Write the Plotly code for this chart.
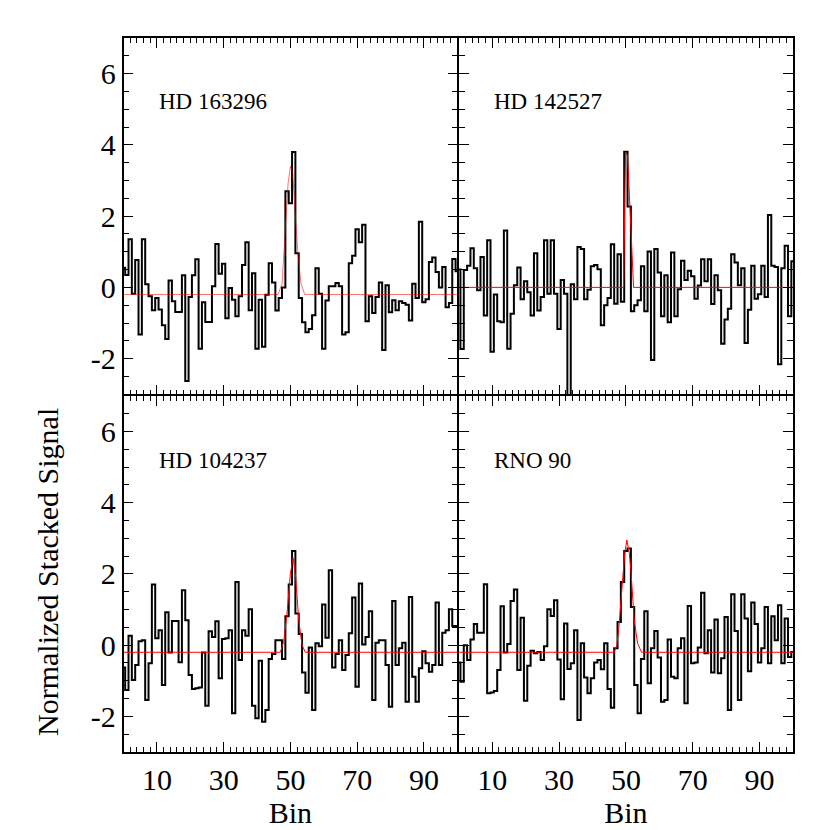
"""Stacked signal around bin 50 for four sources, 2x2 step plots."""
import plotly.graph_objects as go

BINS = list(range(0, 101))

HD163296 = [
    0.55, 0.35, 1.35, -0.18, 0.77, -1.32, 1.35, 0.09, -0.25, -0.64,
    -0.30, -0.62, -1.06, -1.45, 0.19, -0.39, -0.69, -0.69, 0.34, -2.63,
    -0.27, 0.34, 0.79, -1.72, -0.42, -0.97, -0.97, 0.03, 1.22, 0.38,
    0.66, -0.87, -0.02, -0.35, -0.81, -0.25, 0.63, 1.27, -0.64, 0.40,
    -1.72, -0.35, -1.67, -0.21, 0.68, 0.14, -0.65, -0.30, 0.00, 2.70,
    2.36, 3.80, 0.96, -0.30, -0.98, -1.26, -1.17, -0.78, 0.54, -0.18,
    -1.72, -0.37, 0.03, 0.03, 0.12, 0.03, -1.32, -1.26, 0.68, 0.89,
    1.63, 1.27, 1.76, -0.95, -0.25, -0.72, -0.27, 0.14, -1.76, 0.06,
    -0.70, -0.36, -0.64, -0.39, -0.44, -0.49, -0.93, 0.10, -0.30, 1.84,
    -0.42, -0.33, 0.71, 0.84, 0.43, 0.00, 0.57, -0.56, -0.44, 0.80, 0.45,
]

HD142527 = [
    0.50, -1.73, 0.49, 0.61, 1.10, 0.54, -0.08, 0.85, -0.79, 1.32,
    -1.81, -0.20, -0.95, -0.98, 1.60, -1.72, -0.74, 0.06, 0.56, -0.33,
    0.17, -0.14, -0.79, 0.96, -0.65, -0.27, 1.32, -0.18, 1.32, -0.18,
    -1.17, 0.21, -0.18, -3.20, 0.09, -0.33, 1.13, 1.08, -0.33, -0.07,
    0.59, 0.63, 0.51, -1.06, -0.50, -0.30, 1.21, -0.46, 0.93, -0.40,
    3.81, 2.27, -0.67, -0.50, -0.36, 0.59, -0.67, 1.01, -2.04, 1.08,
    0.42, -0.81, 0.34, -0.98, 0.98, -0.81, -0.05, 0.75, 0.21, 0.47,
    0.31, -0.32, 0.05, 0.79, 0.17, 0.79, -0.47, 0.34, -0.08, -1.58,
    -0.90, -0.60, 0.93, 0.70, 0.06, 0.54, -1.56, -0.63, 0.61, -0.32,
    -0.19, 0.61, -0.27, 2.03, 0.61, 0.57, -2.16, 0.54, 1.17, -0.81, 0.73,
]

HD104237 = [
    -0.63, -1.26, 0.26, -0.98, -0.56, 0.11, 0.14, -1.54, -0.51, 1.70,
    0.19, 0.42, -1.12, 0.92, -0.21, 0.68, 0.68, -0.48, 1.54, 0.70,
    -0.84, -1.23, -1.21, -1.19, -0.21, -1.70, 0.39, 0.23, 0.67, -0.93,
    0.17, 0.19, 0.42, -1.91, 1.77, -0.42, 0.42, 0.26, 1.01, -1.70,
    -2.05, -0.44, -2.15, -1.82, -0.39, -0.25, 0.14, 0.14, -0.39, 0.81,
    1.70, 2.64, 0.89, 0.31, -0.77, -1.34, -0.07, -1.82, 0.05, -0.03,
    1.14, 0.21, 2.10, -0.63, -0.25, 0.14, -0.70, -0.28, 0.33, 1.34,
    -1.17, 1.73, 0.02, 0.23, 0.95, -1.54, 0.07, 0.14, 0.14, -0.56,
    -1.73, 1.24, -0.56, -0.09, 0.07, -1.59, 1.35, -0.89, -1.59, -0.65,
    -0.17, -0.51, -0.75, -0.56, 1.20, -0.56, 0.35, 0.42, 1.01, 0.54, 0.54,
]

RNO90 = [
    -0.49, -1.03, 0.00, -0.42, 0.16, 0.59, 0.35, 0.35, 1.71, -1.35,
    -1.33, -1.29, -0.70, 1.09, -0.21, 0.03, 1.24, 1.56, -0.70, 0.77,
    -1.56, -0.58, -0.16, -0.23, -0.19, -0.42, -0.03, 1.01, 0.82, 1.26,
    -0.40, -1.52, 0.61, -0.67, -0.51, 0.42, -2.10, 0.05, -0.91, -1.35,
    -0.93, -0.49, -0.42, -0.68, 0.05, -1.23, -1.76, -0.09, 0.65, 1.77,
    2.64, 2.71, 1.07, -1.12, -1.91, -0.39, 0.95, -1.07, -0.09, 0.40,
    -0.35, -1.59, -1.54, 0.16, -0.89, -0.93, -0.09, 0.19, -1.63, 1.10,
    -0.51, -0.49, -0.07, 1.47, -0.23, 0.42, -0.77, 0.72, -0.79, -0.37,
    0.79, -1.82, 1.43, 0.40, -1.54, 1.43, 0.75, -0.73, 1.20, 0.59,
    -0.49, -0.09, 1.07, -0.51, 0.81, 0.14, 1.12, -0.51, 0.75, -0.33, -0.19,
]

# gaussian fit curves
FIT1_X = [0, 46.3, 47.5, 48.5, 49.3, 50.0, 50.7, 51.5, 52.3, 53.2, 54.3, 100]
FIT1_Y = [-0.2, -0.2, 0.1, 1.6, 2.9, 3.4, 3.2, 2.0, 0.9, 0.1, -0.2, -0.2]
FIT2_X = [0, 49.3, 49.9, 50.5, 51.2, 52.3, 100]
FIT2_Y = [0.0, 0.0, 3.8, 3.7, 2.3, 0.0, 0.0]
FIT3_X = [0, 47.0, 48.0, 49.0, 50.0, 50.8, 51.6, 52.5, 53.5, 54.5, 100]
FIT3_Y = [-0.2, -0.2, 0.1, 0.9, 2.0, 2.45, 1.9, 0.7, 0.0, -0.2, -0.2]
FIT4_X = [0, 46.5, 47.3, 48.0, 49.0, 49.7, 50.3, 51.0, 51.5, 52.5, 53.5, 54.7, 100]
FIT4_Y = [-0.2, -0.2, 0.0, 0.6, 1.8, 2.6, 2.95, 2.6, 2.1, 0.7, 0.05, -0.2, -0.2]

NAMES = ["HD 163296", "HD 142527", "HD 104237", "RNO 90"]
SERIES = [HD163296, HD142527, HD104237, RNO90]
FITS = [(FIT1_X, FIT1_Y), (FIT2_X, FIT2_Y), (FIT3_X, FIT3_Y), (FIT4_X, FIT4_Y)]
FIT_COLORS = ["rgba(255,0,0,0.55)", "#ff0000", "#ff0000", "#ff0000"]

XTICKS = [10, 30, 50, 70, 90]
YTICKS = [-2, 0, 2, 4, 6]
YTICKTEXT = ["-2", "0", "2", "4", "6"]

FONT = "'Liberation Serif', 'Times New Roman', Times, serif"
W = H = 830
OFF = 8  # page body margin, screen px = figure px + OFF
LW = 1.5  # frame line width

# panel edges in screen pixels
XL, XM, XR = 123.5, 458, 793
YT, YM, YB = 38, 395, 752


def fx(px):
    return (px - OFF) / W


def fy(py):
    return 1 - (py - OFF) / H


# plotly draws frame lines just outside the domain, so leave a gap of one
# line width between neighbouring panels to make the shared edges coincide
x_dom = [[fx(XL), fx(XM - LW / 2)], [fx(XM + LW / 2), fx(XR)]]
y_dom = [[fy(YM - LW / 2), fy(YT)], [fy(YB), fy(YM + LW / 2)]]

fig = go.Figure()
layout = dict(
    width=W, height=H,
    paper_bgcolor="white", plot_bgcolor="white",
    margin=dict(l=0, r=0, t=0, b=0),
    showlegend=False,
    font=dict(family=FONT, color="black"),
)

for k in range(4):
    row, col = divmod(k, 2)
    n = k + 1
    xa = "x" if n == 1 else f"x{n}"
    ya = "y" if n == 1 else f"y{n}"

    fig.add_trace(go.Scatter(
        x=BINS, y=SERIES[k], xaxis=xa, yaxis=ya,
        mode="lines", line=dict(color="black", width=2, shape="hvh"),
        hoverinfo="skip",
    ))
    fit_x, fit_y = FITS[k]
    fig.add_trace(go.Scatter(
        x=fit_x, y=fit_y, xaxis=xa, yaxis=ya,
        mode="lines", line=dict(color=FIT_COLORS[k], width=1),
        hoverinfo="skip",
    ))

    xkey = "xaxis" if n == 1 else f"xaxis{n}"
    ykey = "yaxis" if n == 1 else f"yaxis{n}"
    layout[xkey] = dict(
        domain=x_dom[col], anchor=ya, range=[0, 100],
        tickvals=XTICKS, ticks="inside", ticklen=10, tickwidth=1.3, tickcolor="black",
        minor=dict(dtick=2, tick0=0, ticks="inside", ticklen=5, tickwidth=1.1, tickcolor="black"),
        showline=True, linecolor="black", linewidth=LW, mirror="ticks",
        showgrid=False, zeroline=False,
        showticklabels=(row == 1),
        tickfont=dict(family=FONT, size=30, color="black"),
        title=dict(text="Bin" if row == 1 else "", font=dict(family=FONT, size=30, color="black"), standoff=0),
    )
    layout[ykey] = dict(
        domain=y_dom[row], anchor=xa, range=[-3, 7],
        tickvals=YTICKS, ticktext=YTICKTEXT, ticks="inside", ticklen=10, tickwidth=1.3, tickcolor="black",
        minor=dict(dtick=0.5, tick0=0, ticks="inside", ticklen=6, tickwidth=1.1, tickcolor="black"),
        showline=True, linecolor="black", linewidth=LW, mirror="ticks",
        showgrid=False, zeroline=False,
        showticklabels=(col == 0),
        tickfont=dict(family=FONT, size=30, color="black"),
    )

fig.update_layout(**layout)

# source names inside each panel
label_pos = [(157, 102), (492, 102), (157, 460), (492, 460)]
for name, (px, py) in zip(NAMES, label_pos):
    fig.add_annotation(
        text=name, x=fx(px), y=fy(py), xref="paper", yref="paper",
        xanchor="left", yanchor="middle", showarrow=False,
        font=dict(family=FONT, size=23, color="black"),
    )

fig.add_annotation(
    text="Normalized Stacked Signal", x=fx(47), y=fy(572), xref="paper", yref="paper",
    textangle=-90, showarrow=False, xanchor="center", yanchor="middle",
    font=dict(family=FONT, size=30, color="black"),
)

fig.write_html("out.html")
